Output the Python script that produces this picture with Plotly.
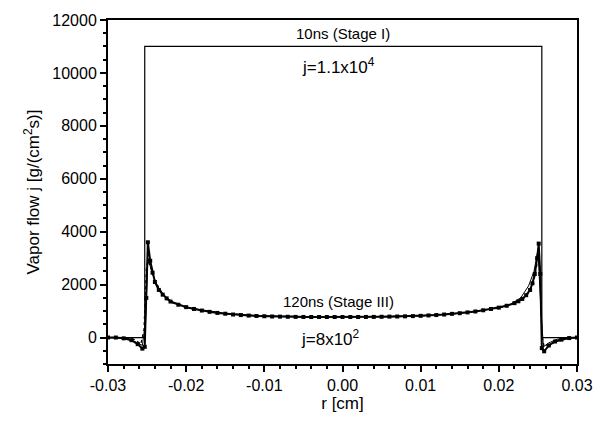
import plotly.graph_objects as go

# Stage I (10 ns) profile
r_stage1 = [-0.0300, -0.0253, -0.0253, 0.0255, 0.0255, 0.0300]
j_stage1 = [0, 0, 11000, 11000, 0, 0]

# Stage III (120 ns) profile, squares + solid
r_stage3 = [-0.0300, -0.0290, -0.0280, -0.0270, -0.0262, -0.0256, -0.0253, -0.0251,
            -0.0249, -0.0246, -0.0243, -0.0240, -0.0235, -0.0230, -0.0225, -0.0220,
            -0.0210, -0.0200, -0.0190, -0.0180, -0.0170, -0.0160, -0.0150, -0.0140,
            -0.0130, -0.0120, -0.0110, -0.0100, -0.0090, -0.0080, -0.0070, -0.0060,
            -0.0050, -0.0040, -0.0030, -0.0020, -0.0010, 0.0000, 0.0010, 0.0020,
            0.0030, 0.0040, 0.0050, 0.0060, 0.0070, 0.0080, 0.0090, 0.0100,
            0.0110, 0.0120, 0.0130, 0.0140, 0.0150, 0.0160, 0.0170, 0.0180,
            0.0190, 0.0200, 0.0210, 0.0220, 0.0225, 0.0230, 0.0235, 0.0240,
            0.0243, 0.0246, 0.0249, 0.0251, 0.0253, 0.0255, 0.0258, 0.0264,
            0.0272, 0.0280, 0.0290, 0.0300]
j_stage3 = [0, 0, -30, -100, -250, -420, -350, 1500,
            3600, 2900, 2450, 2100, 1800, 1620, 1480, 1360,
            1240, 1150, 1080, 1020, 970, 930, 900, 870,
            850, 830, 815, 805, 795, 790, 785, 780,
            778, 776, 775, 775, 775, 775, 775, 776,
            778, 780, 785, 790, 795, 802, 810, 820,
            835, 850, 870, 895, 920, 950, 985, 1030,
            1080, 1130, 1200, 1300, 1370, 1460, 1600, 1800,
            2050, 2400, 3000, 3550, 2400, -400, -520, -300,
            -150, -80, -20, 0]

# Stage III, dotted companion
r_stage3b = [-0.0300, -0.0280, -0.0265, -0.0258, -0.0254, -0.0251, -0.0249, -0.0246,
             -0.0240, -0.0230, -0.0220, -0.0200, -0.0150, -0.0100, 0.0000, 0.0100,
             0.0150, 0.0200, 0.0220, 0.0230, 0.0240, 0.0246, 0.0249, 0.0252,
             0.0255, 0.0258, 0.0265, 0.0280, 0.0300]
j_stage3b = [0, 0, -80, -250, 300, 2600, 2900, 2700,
             2150, 1650, 1340, 1130, 900, 810, 775, 815,
             910, 1110, 1290, 1420, 1750, 2300, 2800, 2900,
             100, -350, -250, -50, 0]

# Thin solid companion
r_stage3c = [-0.0300, -0.0275, -0.0262, -0.0256, -0.0252, -0.0249, -0.0245, -0.0238,
             -0.0228, -0.0215, -0.0200, -0.0150, -0.0100, 0.0000, 0.0100, 0.0150,
             0.0200, 0.0215, 0.0228, 0.0238, 0.0245,
             0.0250, 0.0254, 0.0257, 0.0264, 0.0275, 0.0300]
j_stage3c = [0, -40, -200, -300, 600, 3000, 2600, 2000,
             1580, 1290, 1140, 910, 815, 780, 820, 915,
             1120, 1260, 1500, 1950, 2500,
             3300, 1000, -350, -200, -60, 0]

y_tickvals = [0, 2000, 4000, 6000, 8000, 10000, 12000]
y_ticktext = ["0", "2000", "4000", "6000", "8000", "10000", "12000"]
x_tickvals = [-0.03, -0.02, -0.01, 0.0, 0.01, 0.02, 0.03]
x_ticktext = ["-0.03", "-0.02", "-0.01", "0.00", "0.01", "0.02", "0.03"]

fig = go.Figure()
fig.add_trace(go.Scatter(x=r_stage1, y=j_stage1, mode="lines",
                         line=dict(color="black", width=1.2), showlegend=False))
fig.add_trace(go.Scatter(x=r_stage3b, y=j_stage3b, mode="lines",
                         line=dict(color="black", width=1.2, dash="dot"), showlegend=False))
fig.add_trace(go.Scatter(x=r_stage3c, y=j_stage3c, mode="lines",
                         line=dict(color="black", width=1), showlegend=False))
fig.add_trace(go.Scatter(x=r_stage3, y=j_stage3, mode="lines+markers",
                         line=dict(color="black", width=2),
                         marker=dict(symbol="square", size=4, color="black"),
                         showlegend=False))

font_family = "Liberation Sans, Arial, sans-serif"
ann_font = dict(family=font_family, size=15, color="black")
fig.add_annotation(x=0.0, y=11500, text="10ns (Stage I)", showarrow=False, font=ann_font)
fig.add_annotation(x=-0.0005, y=10250, text="j=1.1x10<sup>4</sup>", showarrow=False,
                   font=dict(family=font_family, size=17, color="black"))
fig.add_annotation(x=-0.0005, y=1350, text="120ns (Stage III)", showarrow=False, font=ann_font)
fig.add_annotation(x=-0.0015, y=0, text="j=8x10<sup>2</sup>", showarrow=False,
                   font=dict(family=font_family, size=17, color="black"))

fig.update_layout(
    width=609, height=426,
    margin=dict(l=108, r=32, t=18, b=62),
    paper_bgcolor="white", plot_bgcolor="white",
    font=dict(family=font_family, size=16, color="black"),
)
fig.update_xaxes(
    range=[-0.03, 0.03], tickvals=x_tickvals, ticktext=x_ticktext,
    showline=True, linecolor="black", linewidth=2, mirror=True,
    ticks="outside", ticklen=6, tickwidth=1.5, tickcolor="black",
    minor=dict(dtick=0.002, ticks="outside", ticklen=3, tickcolor="black"),
    showgrid=False, zeroline=False,
    title=dict(text="r [cm]", font=dict(size=17), standoff=4),
)
fig.update_yaxes(
    range=[-1000, 12000], tickvals=y_tickvals, ticktext=y_ticktext,
    showline=True, linecolor="black", linewidth=2, mirror=True,
    ticks="outside", ticklen=6, tickwidth=1.5, tickcolor="black",
    minor=dict(dtick=500, ticks="outside", ticklen=3, tickcolor="black"),
    showgrid=False, zeroline=False,
    title=dict(text="Vapor flow j [g/(cm<sup>2</sup>s)]", font=dict(size=17), standoff=8),
)

fig.write_html("out.html")
